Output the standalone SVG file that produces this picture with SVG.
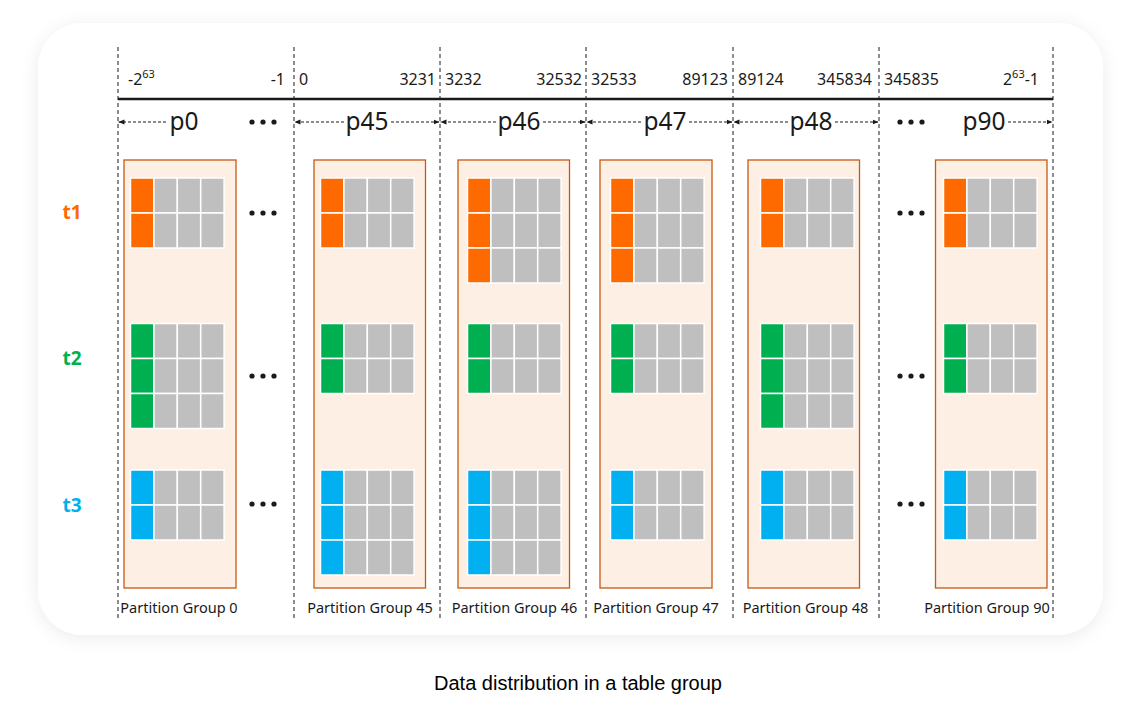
<svg xmlns="http://www.w3.org/2000/svg" xmlns:xlink="http://www.w3.org/1999/xlink" width="1138" height="706" viewBox="0 0 1138 706">
<style>
.num{font-family:"Noto Sans","Open Sans",sans-serif;font-size:16px;fill:#1a1a1a}
.sup{font-size:11px}
.pl{font-family:"Noto Sans","Open Sans",sans-serif;font-size:24.5px;fill:#1a1a1a}
.pg{font-family:"Noto Sans","Open Sans",sans-serif;font-size:14.5px;fill:#1a1a1a}
.tl{font-family:"Noto Sans","Open Sans",sans-serif;font-size:19px;font-weight:bold}
.cap{font-family:"Liberation Sans",Arial,sans-serif;font-size:20px;fill:#000}
.vd{stroke:#1a1a1a;stroke-width:1;stroke-dasharray:4 3;fill:none}
.ar{stroke:#1a1a1a;stroke-width:1;stroke-dasharray:3 2;fill:none;marker-end:url(#ah)}
.box{fill:#FDEFE4;stroke:#C55A11;stroke-width:1.3}
.c{stroke:#fff;stroke-width:1.5}
.g{fill:#BFBFBF}
.o{fill:#FF6A00}
.gr{fill:#00B050}
.b{fill:#00B0F0}
.dot{fill:#1a1a1a}
</style>
<defs>
<filter id="sh" x="-10%" y="-10%" width="120%" height="125%">
<feDropShadow dx="0" dy="3" stdDeviation="9" flood-color="#000" flood-opacity="0.08"/>
</filter>
<marker id="ah" markerWidth="6" markerHeight="6" refX="6" refY="3" orient="auto" markerUnits="userSpaceOnUse">
<path d="M0,0.5 L6,3 L0,5.5 z" fill="#1a1a1a"/>
</marker>
<g id="gray3">
<rect class="c g" x="23.4" y="0" width="23.4" height="35"/>
<rect class="c g" x="46.8" y="0" width="23.4" height="35"/>
<rect class="c g" x="70.2" y="0" width="23.4" height="35"/>
</g>
<g id="rO"><rect class="c o" x="0" y="0" width="23.4" height="35"/><use xlink:href="#gray3"/></g>
<g id="rG"><rect class="c gr" x="0" y="0" width="23.4" height="35"/><use xlink:href="#gray3"/></g>
<g id="rB"><rect class="c b" x="0" y="0" width="23.4" height="35"/><use xlink:href="#gray3"/></g>
<g id="dots"><circle class="dot" cx="-11" cy="0" r="2.6"/><circle class="dot" cx="0" cy="0" r="2.6"/><circle class="dot" cx="11" cy="0" r="2.6"/></g>
</defs>

<rect x="0" y="0" width="1138" height="706" fill="#fff"/>
<rect x="38" y="23" width="1065" height="612" rx="45" ry="45" fill="#fff" filter="url(#sh)"/>

<g id="axis">
<line x1="118" y1="99" x2="1053" y2="99" stroke="#1a1a1a" stroke-width="2.5"/>
<line class="vd" x1="118" y1="47" x2="118" y2="618"/>
<line class="vd" x1="294" y1="47" x2="294" y2="618"/>
<line class="vd" x1="440" y1="47" x2="440" y2="618"/>
<line class="vd" x1="586" y1="47" x2="586" y2="618"/>
<line class="vd" x1="733" y1="47" x2="733" y2="618"/>
<line class="vd" x1="879" y1="47" x2="879" y2="618"/>
<line class="vd" x1="1053" y1="47" x2="1053" y2="618"/>
<text class="num" x="128" y="85">-2<tspan class="sup" dy="-7">63</tspan></text>
<text class="num" x="285" y="85" text-anchor="end">-1</text>
<text class="num" x="299" y="85">0</text>
<text class="num" x="436" y="85" text-anchor="end">3231</text>
<text class="num" x="445" y="85">3232</text>
<text class="num" x="582" y="85" text-anchor="end">32532</text>
<text class="num" x="591" y="85">32533</text>
<text class="num" x="728" y="85" text-anchor="end">89123</text>
<text class="num" x="738" y="85">89124</text>
<text class="num" x="872" y="85" text-anchor="end">345834</text>
<text class="num" x="884" y="85">345835</text>
<text class="num" x="1039" y="85" text-anchor="end">2<tspan class="sup" dy="-7">63</tspan><tspan dy="7">-1</tspan></text>
</g>

<g id="connectors">
<line class="ar" x1="166" y1="122" x2="118.5" y2="122"/>
<line class="ar" x1="344" y1="122" x2="294.5" y2="122"/>
<line class="ar" x1="391" y1="122" x2="439.5" y2="122"/>
<line class="ar" x1="496" y1="122" x2="440.5" y2="122"/>
<line class="ar" x1="543" y1="122" x2="585.5" y2="122"/>
<line class="ar" x1="641" y1="122" x2="586.5" y2="122"/>
<line class="ar" x1="689" y1="122" x2="732.5" y2="122"/>
<line class="ar" x1="788" y1="122" x2="733.5" y2="122"/>
<line class="ar" x1="835" y1="122" x2="878.5" y2="122"/>
<line class="ar" x1="1008" y1="122" x2="1052.5" y2="122"/>
</g>

<g id="plabels">
<text class="pl" x="184" y="130" text-anchor="middle">p0</text>
<text class="pl" x="367" y="130" text-anchor="middle">p45</text>
<text class="pl" x="519" y="130" text-anchor="middle">p46</text>
<text class="pl" x="665" y="130" text-anchor="middle">p47</text>
<text class="pl" x="811" y="130" text-anchor="middle">p48</text>
<text class="pl" x="984" y="130" text-anchor="middle">p90</text>
<use xlink:href="#dots" x="263" y="122"/>
<use xlink:href="#dots" x="911" y="122"/>
</g>

<g id="tables">
<text class="tl" x="72" y="219" text-anchor="middle" fill="#FF6A00">t1</text>
<text class="tl" x="72" y="365" text-anchor="middle" fill="#00B050">t2</text>
<text class="tl" x="72" y="512" text-anchor="middle" fill="#00B0F0">t3</text>
<use xlink:href="#dots" x="263" y="213"/>
<use xlink:href="#dots" x="263" y="376"/>
<use xlink:href="#dots" x="263" y="504"/>
<use xlink:href="#dots" x="911" y="213"/>
<use xlink:href="#dots" x="911" y="376"/>
<use xlink:href="#dots" x="911" y="504"/>
</g>

<g id="pg0">
<rect class="box" x="124" y="160" width="112" height="428"/>
<use xlink:href="#rO" x="130.5" y="178"/><use xlink:href="#rO" x="130.5" y="213"/>
<use xlink:href="#rG" x="130.5" y="323.5"/><use xlink:href="#rG" x="130.5" y="358.5"/><use xlink:href="#rG" x="130.5" y="393.5"/>
<use xlink:href="#rB" x="130.5" y="470"/><use xlink:href="#rB" x="130.5" y="505"/>
<text class="pg" x="179" y="613" text-anchor="middle">Partition Group 0</text>
</g>

<g id="pg45">
<rect class="box" x="314" y="160" width="111.5" height="428"/>
<use xlink:href="#rO" x="320.5" y="178"/><use xlink:href="#rO" x="320.5" y="213"/>
<use xlink:href="#rG" x="320.5" y="323.5"/><use xlink:href="#rG" x="320.5" y="358.5"/>
<use xlink:href="#rB" x="320.5" y="470"/><use xlink:href="#rB" x="320.5" y="505"/><use xlink:href="#rB" x="320.5" y="540"/>
<text class="pg" x="370" y="613" text-anchor="middle">Partition Group 45</text>
</g>

<g id="pg46">
<rect class="box" x="458" y="160" width="111.5" height="428"/>
<use xlink:href="#rO" x="467.5" y="178"/><use xlink:href="#rO" x="467.5" y="213"/><use xlink:href="#rO" x="467.5" y="248"/>
<use xlink:href="#rG" x="467.5" y="323.5"/><use xlink:href="#rG" x="467.5" y="358.5"/>
<use xlink:href="#rB" x="467.5" y="470"/><use xlink:href="#rB" x="467.5" y="505"/><use xlink:href="#rB" x="467.5" y="540"/>
<text class="pg" x="514.5" y="613" text-anchor="middle">Partition Group 46</text>
</g>

<g id="pg47">
<rect class="box" x="600" y="160" width="112" height="428"/>
<use xlink:href="#rO" x="610.5" y="178"/><use xlink:href="#rO" x="610.5" y="213"/><use xlink:href="#rO" x="610.5" y="248"/>
<use xlink:href="#rG" x="610.5" y="323.5"/><use xlink:href="#rG" x="610.5" y="358.5"/>
<use xlink:href="#rB" x="610.5" y="470"/><use xlink:href="#rB" x="610.5" y="505"/>
<text class="pg" x="656" y="613" text-anchor="middle">Partition Group 47</text>
</g>

<g id="pg48">
<rect class="box" x="748" y="160" width="111.5" height="428"/>
<use xlink:href="#rO" x="760.5" y="178"/><use xlink:href="#rO" x="760.5" y="213"/>
<use xlink:href="#rG" x="760.5" y="323.5"/><use xlink:href="#rG" x="760.5" y="358.5"/><use xlink:href="#rG" x="760.5" y="393.5"/>
<use xlink:href="#rB" x="760.5" y="470"/><use xlink:href="#rB" x="760.5" y="505"/>
<text class="pg" x="805.5" y="613" text-anchor="middle">Partition Group 48</text>
</g>

<g id="pg90">
<rect class="box" x="935.5" y="160" width="111.5" height="428"/>
<use xlink:href="#rO" x="943.5" y="178"/><use xlink:href="#rO" x="943.5" y="213"/>
<use xlink:href="#rG" x="943.5" y="323.5"/><use xlink:href="#rG" x="943.5" y="358.5"/>
<use xlink:href="#rB" x="943.5" y="470"/><use xlink:href="#rB" x="943.5" y="505"/>
<text class="pg" x="987" y="613" text-anchor="middle">Partition Group 90</text>
</g>

<text class="cap" x="578" y="690" text-anchor="middle">Data distribution in a table group</text>
</svg>
